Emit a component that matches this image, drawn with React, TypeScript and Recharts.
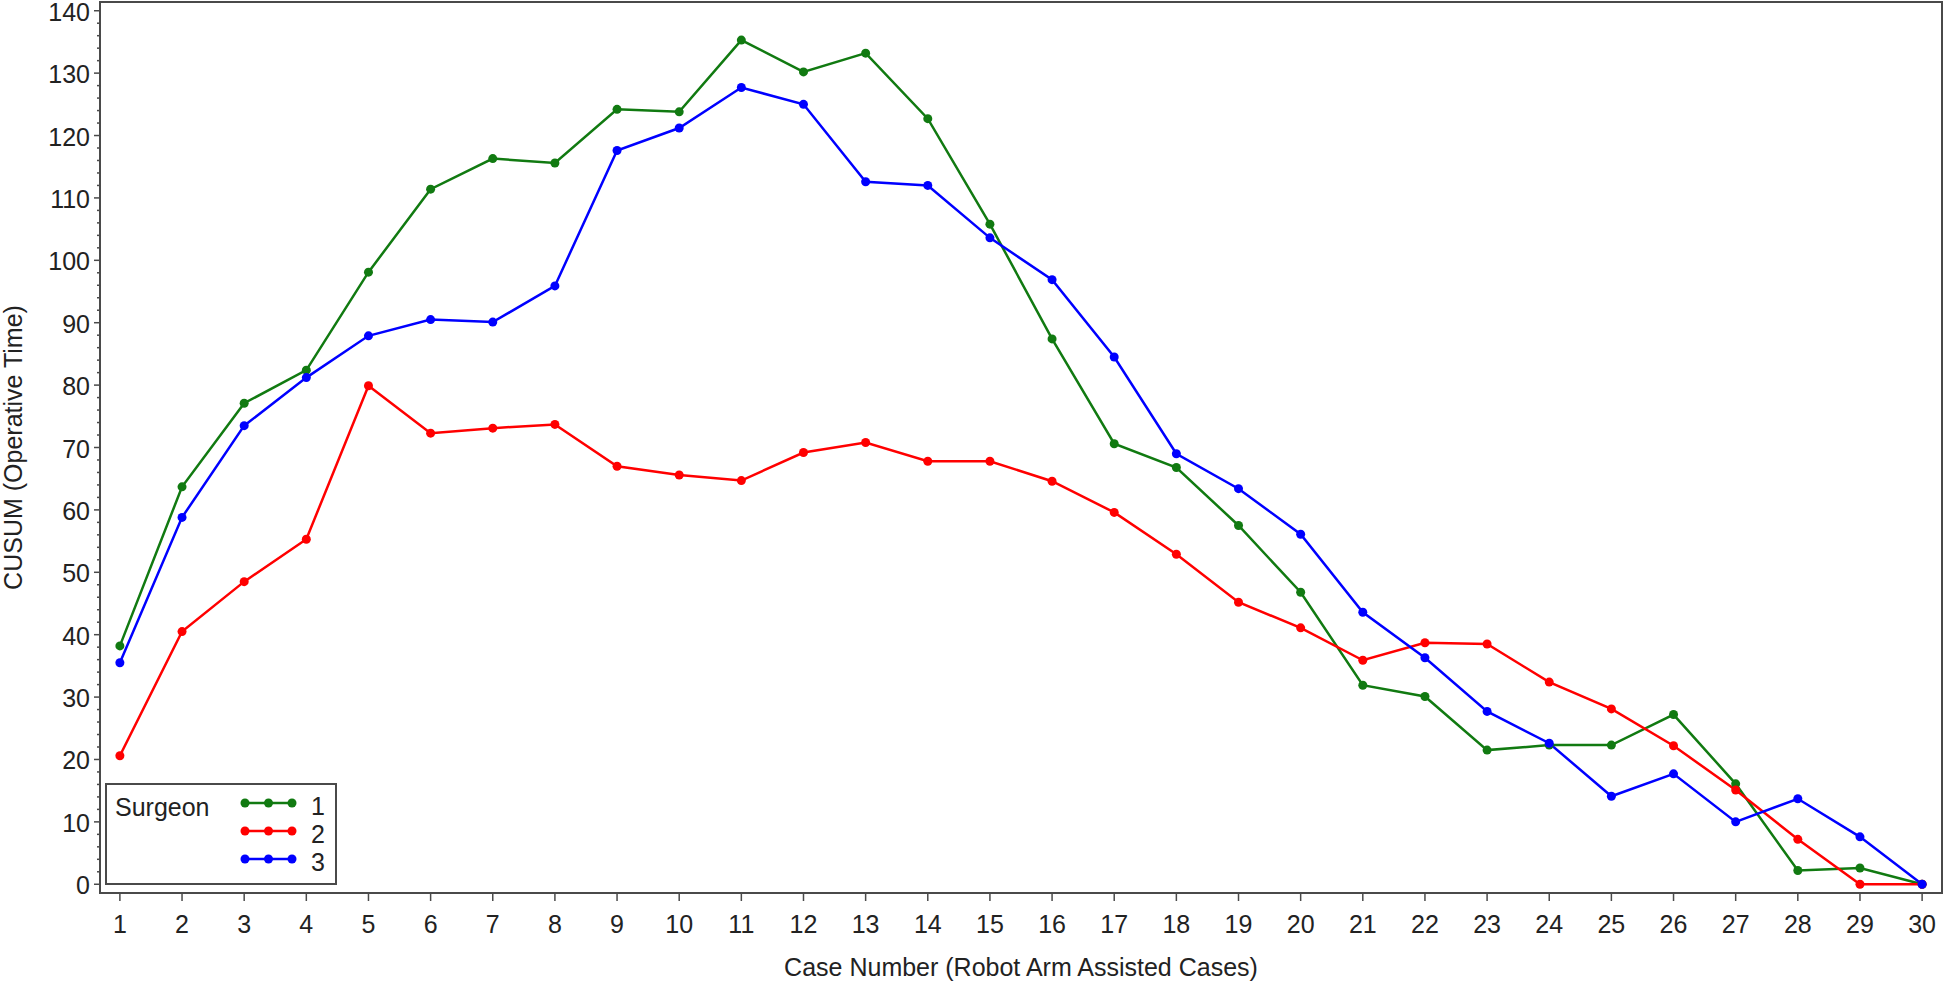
import React from 'react';
import { LineChart, Line, XAxis, YAxis, ReferenceArea, Legend } from 'recharts';

const FONT = '"Liberation Sans", Arial, sans-serif';

const cases = [1, 2, 3, 4, 5, 6, 7, 8, 9, 10, 11, 12, 13, 14, 15, 16, 17, 18, 19, 20, 21, 22, 23, 24, 25, 26, 27, 28, 29, 30];

const surgeon1 = [38.2, 63.7, 77.1, 82.4, 98.1, 111.4, 116.3, 115.6, 124.2, 123.8, 135.3, 130.2, 133.2, 122.7, 105.8, 87.4, 70.6, 66.8, 57.5, 46.8, 31.9, 30.1, 21.5, 22.3, 22.3, 27.2, 16.1, 2.2, 2.6, 0];
const surgeon2 = [20.6, 40.5, 48.5, 55.3, 79.9, 72.3, 73.1, 73.7, 67.0, 65.6, 64.7, 69.2, 70.8, 67.8, 67.8, 64.6, 59.6, 52.9, 45.2, 41.1, 35.9, 38.7, 38.5, 32.4, 28.1, 22.2, 15.1, 7.2, 0, 0];
const surgeon3 = [35.5, 58.8, 73.5, 81.2, 87.9, 90.5, 90.1, 95.9, 117.6, 121.2, 127.7, 125.0, 112.6, 112.0, 103.6, 96.9, 84.5, 69.0, 63.4, 56.1, 43.6, 36.3, 27.7, 22.6, 14.1, 17.7, 10.0, 13.7, 7.6, 0];

const surgeonNames = ['1', '2', '3'];
const surgeonColors = ['#117a11', '#ff0000', '#0000ff'];

// major labels every 10, minor marks every 2
const yMajorTicks = [0, 10, 20, 30, 40, 50, 60, 70, 80, 90, 100, 110, 120, 130, 140];
const yTicks = [0, 2, 4, 6, 8, 10, 12, 14, 16, 18, 20, 22, 24, 26, 28, 30, 32, 34, 36, 38, 40, 42, 44, 46, 48, 50, 52, 54, 56, 58, 60, 62, 64, 66, 68, 70, 72, 74, 76, 78, 80, 82, 84, 86, 88, 90, 92, 94, 96, 98, 100, 102, 104, 106, 108, 110, 112, 114, 116, 118, 120, 122, 124, 126, 128, 130, 132, 134, 136, 138, 140];

const xDomain: [number, number] = [0.68, 30.32];
const yDomain: [number, number] = [-1.4, 141.4];

const data = cases.map((c, i) => ({
  caseNo: c,
  s1: surgeon1[i],
  s2: surgeon2[i],
  s3: surgeon3[i],
}));
const seriesKeys = ['s1', 's2', 's3'];

const AXIS = '#4a4a4a';
const FS = 25;

const YTick = (props: any) => {
  const { x, y, payload } = props;
  const major = yMajorTicks.includes(payload.value);
  const len = major ? 6 : 3;
  return (
    <g>
      <line x1={x - len} x2={x} y1={y} y2={y} stroke={AXIS} strokeWidth={1.5} />
      {major && (
        <text x={x - len - 4} y={y} dy="0.4em" textAnchor="end" fontSize={FS} fontFamily={FONT} fill="#222">
          {payload.value}
        </text>
      )}
    </g>
  );
};

const XLabel = (props: any) => {
  const vb = props.viewBox;
  return (
    <text x={vb.x + vb.width / 2} y={vb.y + 74} dy="0.36em" textAnchor="middle" fontSize={FS} fontFamily={FONT} fill="#222">
      Case Number (Robot Arm Assisted Cases)
    </text>
  );
};

const YLabel = (props: any) => {
  const vb = props.viewBox;
  const cy = vb.y + vb.height / 2;
  return (
    <text x={13} y={cy} dy="0.36em" textAnchor="middle" transform={`rotate(-90, 13, ${cy})`} fontSize={FS} fontFamily={FONT} fill="#222">
      CUSUM (Operative Time)
    </text>
  );
};

const SurgeonLegend = () => {
  const rows = [20, 48, 76];
  return (
    <div style={{ width: 232, height: 102, border: `2px solid ${AXIS}`, boxSizing: 'border-box', background: '#fff' }}>
      <svg width={228} height={98} style={{ display: 'block' }}>
        <text x={8} y={22} dy="0.36em" fontSize={FS} fontFamily={FONT} fill="#222">Surgeon</text>
        {surgeonNames.map((name, i) => (
          <g key={name}>
            <line x1={138} x2={185} y1={rows[i] - 2} y2={rows[i] - 2} stroke={surgeonColors[i]} strokeWidth={2.5} />
            {[138, 161.5, 185].map((cx) => (
              <circle key={cx} cx={cx} cy={rows[i] - 2} r={4.5} fill={surgeonColors[i]} />
            ))}
            <text x={204} y={rows[i] + 1} dy="0.36em" fontSize={FS} fontFamily={FONT} fill="#222">{name}</text>
          </g>
        ))}
      </svg>
    </div>
  );
};

export default function App() {
  return (
    <div style={{ position: 'absolute', left: 0, top: 0, width: 1944, height: 984, background: '#fff' }}>
      <LineChart width={1944} height={984} data={data} margin={{ top: 2, right: 2, bottom: 0, left: 0 }}>
        <XAxis
          dataKey="caseNo"
          type="number"
          domain={xDomain}
          ticks={cases}
          interval={0}
          allowDataOverflow
          height={91}
          axisLine={false}
          tickSize={8}
          tickMargin={14}
          tickLine={{ stroke: AXIS, strokeWidth: 1.5 }}
          tick={{ fontSize: FS, fontFamily: FONT, fill: '#222' }}
          label={<XLabel />}
        />
        <YAxis
          type="number"
          domain={yDomain}
          ticks={yTicks}
          interval={0}
          allowDataOverflow
          width={100}
          axisLine={false}
          tickLine={false}
          tickSize={0}
          tickMargin={0}
          tick={<YTick />}
          label={<YLabel />}
        />
        <ReferenceArea x1={xDomain[0]} x2={xDomain[1]} y1={yDomain[0]} y2={yDomain[1]} fill="none" stroke={AXIS} strokeWidth={2} />
        {seriesKeys.map((k, i) => (
          <Line
            key={k}
            dataKey={k}
            name={surgeonNames[i]}
            stroke={surgeonColors[i]}
            strokeWidth={2.5}
            dot={{ r: 4.5, fill: surgeonColors[i], stroke: surgeonColors[i], strokeWidth: 0 }}
            activeDot={false}
            isAnimationActive={false}
          />
        ))}
        <Legend
          layout="vertical"
          align="center"
          verticalAlign="middle"
          content={<SurgeonLegend />}
          wrapperStyle={{ left: 105, top: 783, width: 232, height: 102 }}
        />
      </LineChart>
    </div>
  );
}
